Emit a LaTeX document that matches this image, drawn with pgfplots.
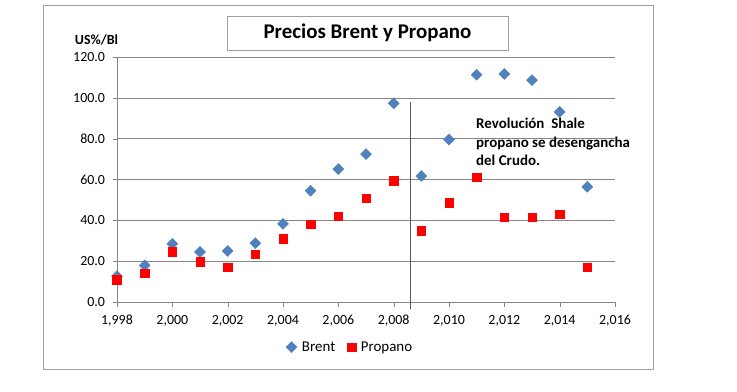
\documentclass[border=0pt]{standalone}
\usepackage{fontspec}
\setmainfont{Carlito}
\usepackage{pgfplots}
\pgfplotsset{compat=1.18}
\definecolor{brentblue}{RGB}{79,129,189}
\definecolor{gridgray}{RGB}{134,134,134}
\definecolor{framegray}{RGB}{160,160,160}
\begin{document}
\begin{tikzpicture}
\path[use as bounding box] (-117bp,-90bp) rectangle (620bp,302bp);
\fill[white] (-117bp,-90bp) rectangle (620bp,302bp);
\draw[framegray, line width=0.8pt] (-74bp,-67bp) rectangle (536bp,297bp);
\begin{axis}[
  scale only axis,
  width=498bp, height=245bp,
  xmin=1998, xmax=2016, ymin=0, ymax=120,
  xtick={1998,2000,...,2016},
  ytick={0,20,...,120},
  axis x line*=bottom, axis y line*=left,
  axis line style={-, gridgray},
  ymajorgrids, grid style={gridgray, line width=0.6pt},
  tick align=outside, major tick length=4.5bp,
  tick style={gridgray},
  clip=false,
  ticklabel style={font=\fontsize{14}{16}\selectfont},
  /pgf/number format/assume math mode=true,
  yticklabel style={xshift=-4bp, /pgf/number format/.cd, fixed, fixed zerofill, precision=1},
  xticklabel style={yshift=-5bp, /pgf/number format/.cd, 1000 sep={,}},
  legend style={draw=none, at={(0.468,-0.184)}, anchor=center,
    legend columns=2, font=\fontsize{15}{17}\selectfont,
    /tikz/every odd column/.append style={column sep=3bp},
    /tikz/every even column/.append style={column sep=10bp}},
  legend cell align=left,
]
\addplot[only marks, mark=square*, mark size=3.9bp, mark options={rotate=45, fill=brentblue, draw=brentblue}] coordinates {
(1998,12.7) (1999,17.9) (2000,28.5) (2001,24.5) (2002,25.0) (2003,28.8)
(2004,38.3) (2005,54.5) (2006,65.1) (2007,72.4) (2008,97.3) (2009,61.7)
(2010,79.6) (2011,111.3) (2012,111.7) (2013,108.7) (2014,93.1) (2015,56.4)
};
\addlegendentry{Brent}
\addplot[only marks, mark=square*, mark size=4.3bp, mark options={fill=red, draw=red}] coordinates {
(1998,10.8) (1999,14.2) (2000,24.5) (2001,19.6) (2002,17.1) (2003,23.5)
(2004,31.0) (2005,38.2) (2006,42.1) (2007,50.9) (2008,59.3) (2009,34.8)
(2010,48.5) (2011,61.2) (2012,41.6) (2013,41.6) (2014,43.1) (2015,17.1)
};
\addlegendentry{Propano}
\addplot[black!65, line width=1.2pt, forget plot] coordinates {(2008.6,-3.5) (2008.6,98)};
\end{axis}
\draw[framegray, fill=white, line width=0.7pt] (110bp,252bp) rectangle (391bp,286bp);
\node at (250.5bp,269bp) {\bfseries\fontsize{21}{25}\selectfont Precios Brent y Propano};
\node at (-20.5bp,262bp) {\bfseries\fontsize{14}{16}\selectfont US\%/Bl};
\node[anchor=north west, inner sep=0pt, align=left, font=\bfseries\fontsize{15}{18.5}\selectfont] at (359bp,184bp) {Revolución\ \ Shale\\propano se desengancha\\del Crudo.};
\end{tikzpicture}
\end{document}
